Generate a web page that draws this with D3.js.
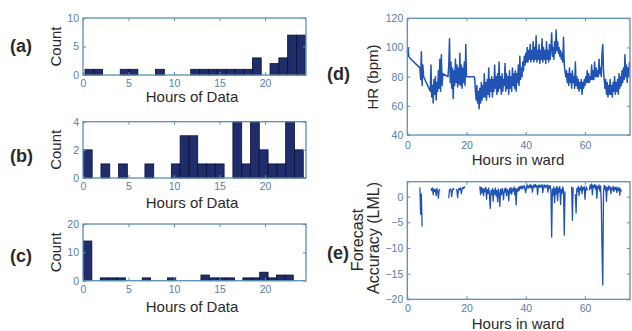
<!DOCTYPE html>
<html><head><meta charset="utf-8">
<script src="https://cdn.jsdelivr.net/npm/d3@7"></script>
<style>body{margin:0;background:#fff}svg{display:block}</style>
</head><body><svg id="c" width="632" height="331"></svg>
<script>
// ---------- DATA ----------
const histXTicks = [0, 5, 10, 15, 20];
const histXDomain = [0, 24.5];
const countsA = [1,1,0,0,1,1,0,0,1,0,0,0,1,1,1,1,1,1,1,3,0,2,3,7,7];
const rangeA = [0.22, 24.42];
const yTicksA = [0, 5, 10];
const countsB = [2,0,1,0,1,0,0,1,0,0,1,3,3,1,1,1,0,4,1,4,2,1,1,4,2];
const rangeB = [0.04, 24.2];
const yTicksB = [0, 2, 4];
const countsC = [14,0,1,1,1,0,0,1,0,0,1,0,0,0,2,1,1,1,0,1,1,3,1,2,2];
const rangeC = [0.05, 23.1];
const yTicksC = [0, 10, 20];

const wardXTicks = [0, 20, 40, 60];
const wardXDomain = [0, 75.2];
const hrYTicks = [40, 60, 80, 100, 120];
const lmlYTicks = [-20, -15, -10, -5, 0];
const sampleStep = 0.25; // hours between samples
// HR segments: [start hour, values (bpm)]
const hrSegments = [
  [0, [97, 100, 94, 93]],
  [4.25, [86, 78, 97, 74, 88, 80]],
  [7.75, [70, 88, 66, 74, 62, 78, 68, 80, 64, 76, 70, 84, 72, 92, 70, 95, 74, 82]],
  [13.75, [80, 88, 106, 76, 90, 72, 86, 65, 84, 74, 92, 76, 88, 73, 86, 75, 96, 74, 88, 72, 86, 76, 90, 74, 102, 80]],
  [22.5, [80, 79, 70, 64,
    74, 62, 70, 58, 72, 62, 76, 64, 74, 66, 82, 66, 76, 64, 78, 68, 86, 66, 78, 70, 80, 66, 78,
    70, 88, 72, 80, 68, 82, 70, 90, 72, 80, 68, 82, 70, 78, 74, 89, 70, 82, 72, 80, 68, 84, 72, 80, 70, 86, 74, 82, 72, 84, 70, 82, 76, 88, 74, 94, 78, 86, 80, 90,
    84, 94, 88, 96, 90, 100, 90, 98,
    92, 102, 90, 98, 92, 104, 90, 100, 92, 108, 90, 98, 92, 102, 89, 98, 92, 106, 90, 100, 92, 98, 89, 104, 92, 98, 90, 102, 92, 100, 110, 94, 100, 92, 104, 96, 112, 98, 104, 96, 100, 94, 98, 92, 96, 90, 107, 88, 84, 80,
    84, 76, 82, 74, 86, 76, 82, 72, 84, 76, 80, 72, 90, 74, 80, 72, 78, 70, 76, 72, 78, 68, 76, 72,
    78, 74, 80, 76, 84, 76, 82, 76, 80, 78, 88, 78, 84, 78, 90, 80, 86, 80, 84, 80, 92, 82, 86, 80, 96, 102, 84, 78,
    72, 78, 68, 76, 66, 74, 68, 78, 68, 74, 66, 76, 70, 80, 68, 76, 70, 78, 68, 82, 72,
    80, 74, 84, 76, 86, 78, 95, 80, 88, 76, 86, 80, 90]]
];
// Forecast accuracy (LML) segments: [start hour, values]
const lmlSegments = [
  [4.25, [1.8, -3.4, 0.5, -5.8]],
  [8.0, [1.6, 1.2, 1.7, 0.4, 1.5, 1.0, 1.4, 0.2, 1.6, 1.1, -0.3, 1.2, 1.5]],
  [14.0, [-0.3, 1.3, 1.5, 1.2, 0.0, 1.4, 1.6, 1.3]],
  [16.5, [1.5, 1.2, -0.2, 1.4, 1.6, 1.3, 1.7, 0.6, 1.5, 1.8, 1.6, 1.9, 1.7]],
  [24.5, [2.0, 0.4, 1.8, 0.8, 1.6, 0.2, 1.5, 1.0, 1.8, -0.5, 1.4, 0.6, 1.7, 0.3, -2.3, 1.2, 0.4, 1.6, -0.9, 1.3, 0.5, 1.7, 0.1, 1.2, -1.0, 1.5, 0.6, -1.9, 1.4, 0.4, 1.6, 0.8, -0.6, 1.5, 0.9, 1.7, 0.2, 1.4, 1.0, -0.8, 1.6, 0.7, 1.8, 0.5, 1.5, 1.1, 1.9, 0.4, 1.6, -1.6, 1.5, 1.0, 1.8, 1.2, 2.0,
    1.6, 2.1, 1.5, 2.0, 1.7, 2.2, 1.4, 0.8, 1.9, 2.3, 1.6, 2.1, 1.8, 2.4, 1.7, 2.2, 0.9, 2.0, 2.3, 1.8, 2.4, 1.9, 2.2, 0.4, 2.1, 2.3, 1.8, 2.2, 1.9, 2.4, 0.8, 2.0, 2.3, 1.7, 2.2, 1.9, 2.3, 0.9, 2.1, 1.6, 2.2, 1.0,
    -7.9, 1.5, 0.3, 1.9, -1.2, 1.6, 0.5, 2.0, -0.8, 1.7, 0.9, 2.0, -1.5, 1.4, 0.6, 1.9, 1.2, -7.5, 1.0]],
  [55.5, [2.0, -4.6, 1.8]],
  [56.75, [0.5, -3.2, 1.6, 1.0, 2.0, 0.2, 1.7, 1.3, 2.1, 0.6, 1.8, 1.4, 2.0, -0.5, 1.6, 1.9, 1.2]],
  [61.5, [1.2, 2.3, 1.6, 2.5, 0.4, 2.2, 1.8, 2.4, 1.5, 2.2, -0.3, 2.0, 1.6, 2.3, 1.1, 2.1, -1.0, -10.2, -17.2, 0.8, 2.2, 1.4, 2.0, -0.9, 1.8, 1.2, 2.1, 1.5, 1.9, 0.6, 1.7, 1.3, 2.0, 1.0, 1.8, 1.4, 1.9, 0.8, 1.7, 1.2, 1.8, 0.3, 1.5, 1.0]]
];

// ---------- STYLE ----------
const FONT = "Arial, 'Liberation Sans', sans-serif";
const boxColor = "#5b8fb3";
const tickColor = "#5a7ea6";
const labelColor = "#2a2a2a";
const barFill = "#1f2d6b";
const barStroke = "#0a0f33";
const lineColor = "#2153b4";

const svg = d3.select("#c");
const fmt = d3.format("d");

function frame(g, x, y, xTicks, yTicks, padX) {
  const [x0, x1] = x.range(), [y0, y1] = y.range();
  const ax = (sel) => {
    sel.select(".domain").remove();
    sel.selectAll("line").attr("stroke", boxColor).attr("stroke-width", 1);
    sel.selectAll("text").attr("fill", tickColor).style("font-family", FONT).style("font-size", "10.5px");
  };
  g.append("g").attr("transform", `translate(0,${y0})`)
    .call(d3.axisBottom(x).tickValues(xTicks).tickFormat(fmt).tickSize(-3).tickPadding(padX)).call(ax);
  g.append("g").attr("transform", `translate(0,${y1})`)
    .call(d3.axisTop(x).tickValues(xTicks).tickSize(-3).tickFormat("")).call(ax);
  g.append("g").attr("transform", `translate(${x0},0)`)
    .call(d3.axisLeft(y).tickValues(yTicks).tickFormat(fmt).tickSize(-3).tickPadding(4)).call(ax);
  g.append("g").attr("transform", `translate(${x1},0)`)
    .call(d3.axisRight(y).tickValues(yTicks).tickSize(-3).tickFormat("")).call(ax);
  g.append("rect").attr("x", x0).attr("y", y1).attr("width", x1 - x0).attr("height", y0 - y1)
    .attr("fill", "none").attr("stroke", boxColor).attr("stroke-width", 1.3);
}

function text(g, t, x, y, opts = {}) {
  const el = g.append("text").attr("x", x).attr("y", y).text(t)
    .style("font-family", FONT).style("font-size", (opts.size || 15) + "px")
    .attr("fill", opts.fill || labelColor).attr("text-anchor", opts.anchor || "middle");
  if (opts.bold) el.style("font-weight", "bold");
  if (opts.rotate) el.attr("transform", `rotate(-90,${x},${y})`);
  return el;
}

function histogram(counts, range, yTicks, top, bottom, tag, tagY, labelY) {
  const g = svg.append("g");
  const x = d3.scaleLinear().domain(histXDomain).range([83, 306]);
  const y = d3.scaleLinear().domain([0, yTicks[yTicks.length - 1]]).range([bottom, top]);
  const w = (range[1] - range[0]) / counts.length;
  const bins = counts.map((c, i) => ({ x0: range[0] + i * w, x1: range[0] + (i + 1) * w, c })).filter(d => d.c > 0);
  g.selectAll("rect.bar").data(bins).join("rect").attr("class", "bar")
    .attr("x", d => x(d.x0)).attr("width", d => x(d.x1) - x(d.x0))
    .attr("y", d => y(d.c)).attr("height", d => y(0) - y(d.c))
    .attr("fill", barFill).attr("stroke", barStroke).attr("stroke-width", 0.8);
  frame(g, x, y, histXTicks, yTicks, 5);
  text(g, "Count", 61, (top + bottom) / 2, { rotate: true });
  text(g, "Hours of Data", 192, labelY);
  text(g, tag, 10, tagY, { bold: true, size: 18, anchor: "start" });
}

histogram(countsA, rangeA, yTicksA, 18, 75, "(a)", 52, 102);
histogram(countsB, rangeB, yTicksB, 121.7, 178, "(b)", 162, 208);
histogram(countsC, rangeC, yTicksC, 224, 280.7, "(c)", 262, 312);

// ---------- HR panel (d) ----------
{
  const g = svg.append("g");
  const x = d3.scaleLinear().domain(wardXDomain).range([407.3, 630]);
  const y = d3.scaleLinear().domain([40, 120]).range([135, 18.3]);
  const pts = hrSegments.flatMap(([s, vals]) => vals.map((v, i) => [s + i * sampleStep, v]));
  g.append("path").datum(pts).attr("fill", "none").attr("stroke", lineColor).attr("stroke-width", 1.5)
    .attr("stroke-linejoin", "round")
    .attr("d", d3.line().x(d => x(d[0])).y(d => y(d[1])));
  frame(g, x, y, wardXTicks, hrYTicks, 7);
  text(g, "HR (bpm)", 378, 77, { rotate: true });
  text(g, "Hours in ward", 518, 165);
  text(g, "(d)", 327, 80, { bold: true, size: 18, anchor: "start" });
}

// ---------- LML panel (e) ----------
{
  const g = svg.append("g");
  const x = d3.scaleLinear().domain(wardXDomain).range([407.3, 630]);
  const y = d3.scaleLinear().domain([-20, 2.92]).range([299.3, 181.7]);
  const line = d3.line().x(d => x(d[0])).y(d => y(d[1]));
  lmlSegments.forEach(([s, vals]) => {
    const pts = vals.map((v, i) => [s + i * sampleStep, v]);
    g.append("path").datum(pts).attr("fill", "none").attr("stroke", lineColor).attr("stroke-width", 1.3)
      .attr("stroke-linejoin", "round").attr("d", line);
  });
  frame(g, x, y, wardXTicks, lmlYTicks, 5);
  text(g, "Forecast", 363, 240, { rotate: true, size: 16 });
  text(g, "Accuracy (LML)", 379, 238, { rotate: true, size: 16 });
  text(g, "Hours in ward", 518, 329);
  text(g, "(e)", 327, 259, { bold: true, size: 18, anchor: "start" });
}
</script></body></html>
